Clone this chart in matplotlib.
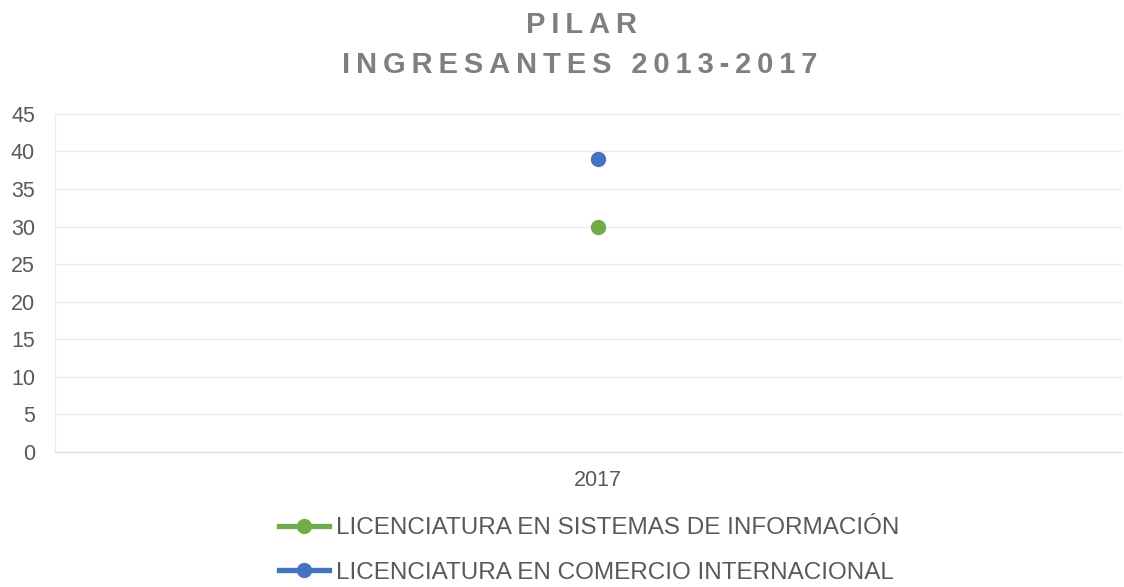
import matplotlib.pyplot as plt

# datos
years = ['2017']
sistemas = [30]
comercio = [39]
series_names = ['LICENCIATURA EN SISTEMAS DE INFORMACIÓN',
                'LICENCIATURA EN COMERCIO INTERNACIONAL']
y_ticks = [0, 5, 10, 15, 20, 25, 30, 35, 40, 45]
title_lines = ['PILAR', 'INGRESANTES 2013-2017']

plt.rcParams['font.family'] = ['Liberation Sans', 'DejaVu Sans']


def spaced(s):
    # espaciado entre letras como en el original
    return '\u2009'.join(s)


fig = plt.figure(figsize=(11.24, 5.87), dpi=100)
ax = fig.add_axes([0.049, 0.23, 0.949, 0.576])

x = range(len(years))
ax.plot(x, sistemas, color='#70AD47', marker='o', markersize=10, linewidth=3.8,
        label=series_names[0])
ax.plot(x, comercio, color='#4472C4', marker='o', markersize=10, linewidth=3.8,
        label=series_names[1])

ax.set_ylim(0, 45)
ax.set_yticks(y_ticks)
ax.set_xlim(-1.0, 0.965)
ax.set_xticks(list(x))
ax.set_xticklabels(years)
ax.grid(axis='y', color='#ebebeb', linewidth=1)
ax.set_axisbelow(True)
for s in ['top', 'right']:
    ax.spines[s].set_visible(False)
ax.spines['bottom'].set_color('#d9d9d9')
ax.spines['left'].set_color('#ececec')
ax.tick_params(axis='both', length=0, labelsize=15.5, labelcolor='#595959')
ax.tick_params(axis='x', pad=13)
ax.tick_params(axis='y', pad=14.5)

fig.text(0.517, 0.958, spaced(title_lines[0]), ha='center', va='center', fontsize=21,
         fontweight='bold', color='#7f7f7f')
fig.text(0.516, 0.889, spaced(title_lines[1]), ha='center', va='center', fontsize=21,
         fontweight='bold', color='#7f7f7f')

leg = fig.legend(loc='center', bbox_to_anchor=(0.524, 0.062), ncol=1, frameon=False,
                 fontsize=17.5, handlelength=2.05, handletextpad=0.3, labelspacing=0.92,
                 labelcolor='#595959', borderpad=0)

plt.savefig('out.png', dpi=100)
